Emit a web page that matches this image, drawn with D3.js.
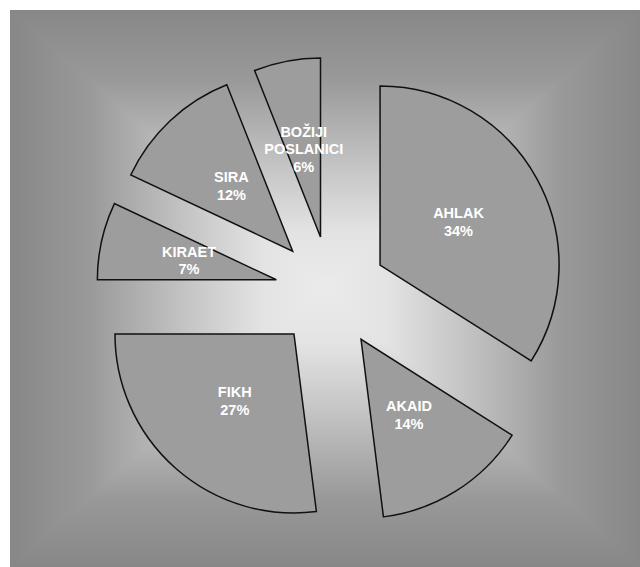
<!DOCTYPE html>
<html>
<head>
<meta charset="utf-8">
<script src="https://cdn.jsdelivr.net/npm/d3@7"></script>
<style>
  body { margin: 0; background: #fff; }
</style>
</head>
<body>
<div id="chart"></div>
<script>
// data
let categories = ["AHLAK", "AKAID", "FIKH", "KIRAET", "SIRA", "BOŽIJI POSLANICI"];
let values = [34, 14, 27, 7, 12, 6];
let labelLines = [["AHLAK"], ["AKAID"], ["FIKH"], ["KIRAET"], ["SIRA"], ["BOŽIJI", "POSLANICI"]];

// svg attributes
let svgWidth = 640;
let svgHeight = 567;
let bg = {x0: 10, y0: 10, x1: 640, y1: 567};
let cx = 331, cy = 292;
let radius = 179;
let explode = 56;

let svg = d3.select("#chart")
  .append("svg")
  .attr("width", svgWidth)
  .attr("height", svgHeight);

let defs = svg.append("defs");

// rectangular "from center" gradient: four triangles, each shaded from its edge to the middle
let gcx = (bg.x0 + bg.x1) / 2, gcy = (bg.y0 + bg.y1) / 2;
let stops = [[0, "#878787"], [0.25, "#999999"], [0.55, "#c3c3c3"], [0.8, "#e3e3e3"], [1, "#ebebeb"]];
let sides = [
  {id: "gTop", pts: [[bg.x0, bg.y0], [bg.x1, bg.y0]], from: [gcx, bg.y0]},
  {id: "gRight", pts: [[bg.x1, bg.y0], [bg.x1, bg.y1]], from: [bg.x1, gcy]},
  {id: "gBottom", pts: [[bg.x1, bg.y1], [bg.x0, bg.y1]], from: [gcx, bg.y1]},
  {id: "gLeft", pts: [[bg.x0, bg.y1], [bg.x0, bg.y0]], from: [bg.x0, gcy]}
];

sides.forEach(s => {
  let grad = defs.append("linearGradient")
    .attr("id", s.id)
    .attr("gradientUnits", "userSpaceOnUse")
    .attr("x1", s.from[0]).attr("y1", s.from[1])
    .attr("x2", gcx).attr("y2", gcy);
  grad.selectAll("stop")
    .data(stops)
    .enter()
    .append("stop")
    .attr("offset", d => d[0])
    .attr("stop-color", d => d[1]);
});

// base layer (left/right halves) matches the triangles on the diagonals, hiding the seams
svg.append("rect")
  .attr("x", bg.x0).attr("y", bg.y0)
  .attr("width", gcx - bg.x0).attr("height", bg.y1 - bg.y0)
  .attr("fill", "url(#gLeft)");
svg.append("rect")
  .attr("x", gcx).attr("y", bg.y0)
  .attr("width", bg.x1 - gcx).attr("height", bg.y1 - bg.y0)
  .attr("fill", "url(#gRight)");

svg.append("g")
  .selectAll("path")
  .data(sides)
  .enter()
  .append("path")
  .attr("d", s => `M${s.pts[0]}L${s.pts[1]}L${gcx},${gcy}Z`)
  .attr("fill", s => `url(#${s.id})`);

// pie layout, clockwise from 12 o'clock
let pie = d3.pie().sort(null).value(d => d);
let arcs = pie(values);

let arc = d3.arc()
  .innerRadius(0)
  .outerRadius(radius);

let pieGroup = svg.append("g")
  .attr("transform", `translate(${cx},${cy})`);

let slices = pieGroup.selectAll("g.slice")
  .data(arcs)
  .enter()
  .append("g")
  .attr("class", "slice")
  .attr("transform", d => {
    let mid = (d.startAngle + d.endAngle) / 2;
    return `translate(${Math.sin(mid) * explode},${-Math.cos(mid) * explode})`;
  });

slices.append("path")
  .attr("d", arc)
  .attr("fill", "#9d9d9d")
  .attr("stroke", "#111")
  .attr("stroke-width", 1.5)
  .attr("stroke-linejoin", "miter");

let lineH = 17.5;
let labels = slices.append("text")
  .attr("transform", d => `translate(${arc.centroid(d)})`)
  .attr("text-anchor", "middle")
  .attr("font-family", "'Liberation Sans', Arial, sans-serif")
  .attr("font-weight", "bold")
  .attr("font-size", "14.5px")
  .attr("fill", "#ffffff");

labels.each(function(d, i) {
  let lines = labelLines[i].concat([values[i] + "%"]);
  let top = -(lines.length - 1) * lineH / 2 + 5;
  d3.select(this).selectAll("tspan")
    .data(lines)
    .enter()
    .append("tspan")
    .attr("x", 0)
    .attr("y", (t, k) => top + k * lineH)
    .text(t => t);
});
</script>
</body>
</html>
